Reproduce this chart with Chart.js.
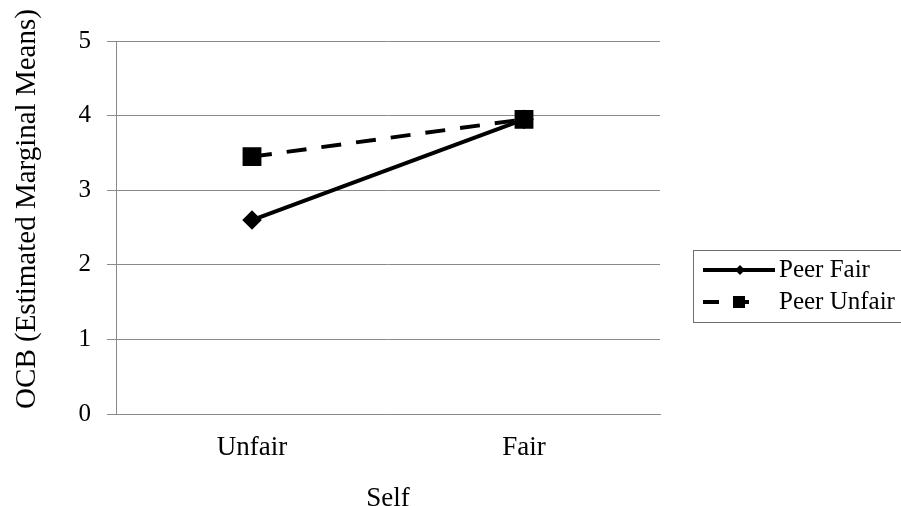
<!DOCTYPE html>
<html>
<head>
<meta charset="utf-8">
<script src="https://cdn.jsdelivr.net/npm/chart.js@4"></script>
<style>
  html, body { margin: 0; padding: 0; background: #fff; }
  #chart { display: block; }
</style>
</head>
<body>
<canvas id="chart" width="901" height="506"></canvas>
<script>
// chart data
var categories = ['Unfair', 'Fair'];
var seriesNames = ['Peer Fair', 'Peer Unfair'];
var peerFair = [2.6, 3.95];
var peerUnfair = [3.45, 3.95];
var yTicks = [0, 1, 2, 3, 4, 5];
var yTitle = 'OCB (Estimated Marginal Means)';

var serif = '"Liberation Serif", "Times New Roman", serif';
var gridGrey = '#8a8a8a';

// y title sits a bit above the plot centre in the source, so draw it here
var yTitlePlugin = {
    id: 'yTitle',
    afterDraw: function (chart) {
        var ctx = chart.ctx;
        ctx.save();
        ctx.translate(27, 209);
        ctx.rotate(-Math.PI / 2);
        ctx.font = '29px ' + serif;
        ctx.fillStyle = '#000';
        ctx.textAlign = 'center';
        ctx.textBaseline = 'middle';
        ctx.fillText(yTitle, 0, 0);
        ctx.restore();
    }
};

// legend with a box, drawn in the style of the source chart
var boxLegend = {
    id: 'boxLegend',
    afterDraw: function (chart) {
        var ctx = chart.ctx;
        ctx.save();
        ctx.strokeStyle = '#6e6e6e';
        ctx.lineWidth = 1;
        ctx.strokeRect(693.5, 250.5, 240, 72);

        var rows = [270, 302];
        chart.data.datasets.forEach(function (ds, i) {
            var y = rows[i];
            var dashed = ds.borderDash && ds.borderDash.length;
            ctx.strokeStyle = '#000';
            ctx.lineWidth = 4;
            ctx.setLineDash(dashed ? [16, 14] : []);
            ctx.beginPath();
            ctx.moveTo(703, y);
            ctx.lineTo(dashed ? 752 : 775, y);
            ctx.stroke();
            ctx.setLineDash([]);
            ctx.fillStyle = '#000';
            if (ds.pointStyle === 'rect') {
                ctx.fillRect(733, y - 6, 12, 12);
            } else {
                ctx.beginPath();
                ctx.moveTo(740, y - 5);
                ctx.lineTo(745, y);
                ctx.lineTo(740, y + 5);
                ctx.lineTo(735, y);
                ctx.closePath();
                ctx.fill();
            }
            ctx.font = '25px ' + serif;
            ctx.textBaseline = 'middle';
            ctx.fillText(ds.label, 779, y);
        });
        ctx.restore();
    }
};

var ctx = document.getElementById('chart').getContext('2d');
var chart = new Chart(ctx, {
    type: 'line',
    data: {
        labels: categories,
        datasets: [{
            label: seriesNames[0],
            data: peerFair,
            borderColor: '#000',
            backgroundColor: '#000',
            borderWidth: 4,
            pointStyle: 'rectRot',
            pointRadius: 7,
            order: 1
        }, {
            label: seriesNames[1],
            data: peerUnfair,
            borderColor: '#000',
            backgroundColor: '#000',
            borderWidth: 4,
            borderDash: [20, 15],
            pointStyle: 'rect',
            pointRadius: 10.5,
            order: 0
        }]
    },
    options: {
        responsive: false,
        animation: false,
        layout: { padding: { top: 41, right: 241, left: 0, bottom: 0 } },
        plugins: {
            legend: { display: false },
            tooltip: { enabled: false }
        },
        scales: {
            x: {
                offset: true,
                grid: { display: false },
                border: { display: true, color: gridGrey, width: 1 },
                ticks: { color: '#000', padding: 10, font: { family: serif, size: 27 } },
                title: {
                    display: true, text: 'Self', color: '#000',
                    font: { family: serif, size: 27, lineHeight: 0.5 },
                    padding: { top: 0, bottom: 0 }
                },
                afterFit: function (scale) { scale.height = 92; }
            },
            y: {
                min: 0,
                max: 5,
                afterBuildTicks: function (scale) {
                    scale.ticks = yTicks.map(function (v) { return { value: v }; });
                },
                grid: { color: gridGrey, tickLength: 9, drawTicks: true },
                border: { display: true, color: gridGrey, width: 1 },
                ticks: { color: '#000', padding: 16, font: { family: serif, size: 25 } },
                title: { display: false },
                afterFit: function (scale) { scale.width = 116; }
            }
        }
    },
    plugins: [yTitlePlugin, boxLegend]
});
</script>
</body>
</html>
